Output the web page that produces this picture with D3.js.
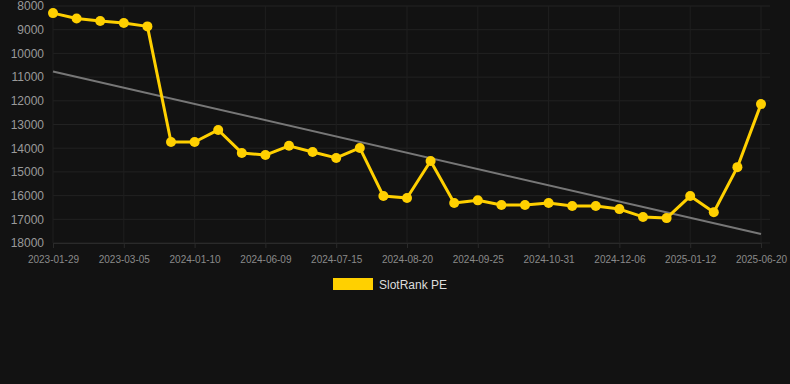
<!DOCTYPE html>
<html>
<head>
<meta charset="utf-8">
<script src="https://cdn.jsdelivr.net/npm/d3@7.9.0/dist/d3.min.js"></script>
<style>
  body { margin: 0; background: #121212; }
  svg { display: block; font-family: "Liberation Sans", Arial, sans-serif; }
</style>
</head>
<body>
<svg id="chart" width="790" height="384"></svg>
<script>
// dates (every 3rd one is shown on the axis; the others are estimated)
const dates = [
  "2023-01-29", "2023-02-10", "2023-02-22", "2023-03-05", "2023-06-01", "2023-09-01",
  "2024-01-10", "2024-02-20", "2024-04-01", "2024-06-09", "2024-06-21", "2024-07-03",
  "2024-07-15", "2024-07-27", "2024-08-08", "2024-08-20", "2024-09-01", "2024-09-13",
  "2024-09-25", "2024-10-07", "2024-10-19", "2024-10-31", "2024-11-12", "2024-11-24",
  "2024-12-06", "2024-12-18", "2024-12-30", "2025-01-12", "2025-03-01", "2025-05-01",
  "2025-06-20"
];
const slotRank = [
  8300, 8530, 8630, 8720, 8860, 13740, 13740, 13230, 14200, 14290, 13900, 14160,
  14410, 13990, 16020, 16100, 14540, 16310, 16200, 16400, 16400, 16310, 16440, 16440,
  16570, 16900, 16950, 16020, 16700, 14800, 12140
];
const yTicks = [8000, 9000, 10000, 11000, 12000, 13000, 14000, 15000, 16000, 17000, 18000];
const seriesName = "SlotRank PE";

const svg = d3.select("#chart");
const mLeft = 53, mRight = 761, mTop = 6, mBottom = 243;

const x = d3.scalePoint().domain(dates).range([mLeft, mRight]);
const y = d3.scaleLinear().domain([8000, 18000]).range([mTop, mBottom]);
const tickDates = dates.filter((d, i) => i % 3 === 0);

// grid
svg.append("g")
  .selectAll("line")
  .data(yTicks)
  .join("line")
  .attr("x1", mLeft).attr("x2", 770)
  .attr("y1", d => y(d)).attr("y2", d => y(d))
  .attr("stroke", "#222")
  .attr("stroke-width", 1);

svg.append("g")
  .selectAll("line")
  .data(tickDates)
  .join("line")
  .attr("x1", d => x(d)).attr("x2", d => x(d))
  .attr("y1", mTop).attr("y2", mBottom)
  .attr("stroke", "#1f1f1f")
  .attr("stroke-width", 1);

// axes
const yAxis = svg.append("g")
  .attr("transform", `translate(${mLeft - 9},0)`)
  .call(d3.axisLeft(y).tickValues(yTicks).tickSize(0).tickFormat(d3.format("d")));
yAxis.select(".domain").remove();
yAxis.selectAll("text").attr("fill", "#9a9a9a").attr("font-size", 12).attr("x", 0);

const xAxis = svg.append("g")
  .attr("transform", `translate(0,${mBottom})`)
  .call(d3.axisBottom(x).tickValues(tickDates).tickSize(5).tickPadding(8));
xAxis.select(".domain").attr("stroke", "#2a2a2a");
xAxis.selectAll(".tick line").attr("stroke", "#2a2a2a");
xAxis.selectAll("text").attr("fill", "#8a8a8a").attr("font-size", 10);

// trend line (least squares on the series)
const idx = slotRank.map((v, i) => i);
const mx = d3.mean(idx), my = d3.mean(slotRank);
const slope = d3.sum(idx, i => (i - mx) * (slotRank[i] - my)) / d3.sum(idx, i => (i - mx) ** 2);
const icpt = my - slope * mx;
const n = dates.length - 1;
svg.append("line")
  .attr("x1", x(dates[0])).attr("y1", y(icpt))
  .attr("x2", x(dates[n])).attr("y2", y(icpt + slope * n))
  .attr("stroke", "#777")
  .attr("stroke-width", 2);

// series
const gold = "#ffd000";
svg.append("path")
  .datum(slotRank)
  .attr("fill", "none")
  .attr("stroke", gold)
  .attr("stroke-width", 3)
  .attr("stroke-linejoin", "round")
  .attr("d", d3.line().x((d, i) => x(dates[i])).y(d => y(d)));

svg.append("g")
  .selectAll("circle")
  .data(slotRank)
  .join("circle")
  .attr("cx", (d, i) => x(dates[i]))
  .attr("cy", d => y(d))
  .attr("r", 5)
  .attr("fill", gold);

// legend
const legend = svg.append("g").attr("transform", "translate(333,278)");
legend.append("rect").attr("width", 40).attr("height", 12).attr("fill", gold);
legend.append("text")
  .attr("x", 46).attr("y", 10.5)
  .attr("fill", "#dddddd")
  .attr("font-size", 12)
  .text(seriesName);
</script>
</body>
</html>
